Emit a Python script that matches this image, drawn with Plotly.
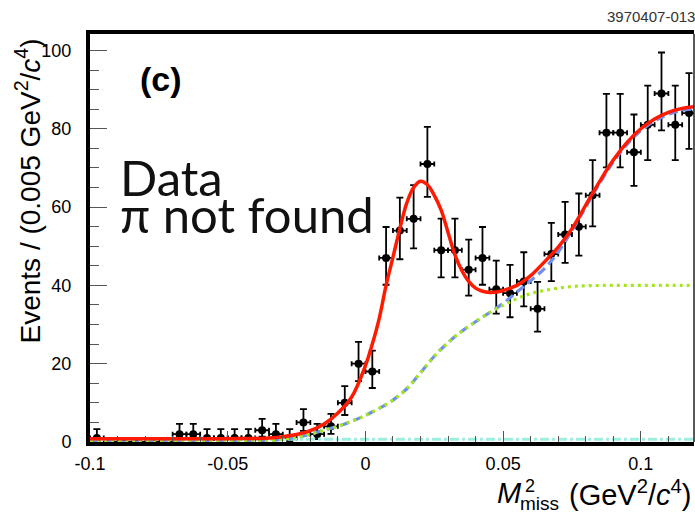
import plotly.graph_objects as go

# ---------------- data ----------------
bin_centers = [-0.0975, -0.0925, -0.0875, -0.0825, -0.0775, -0.0725, -0.0675, -0.0625,
               -0.0575, -0.0525, -0.0475, -0.0425, -0.0375, -0.0325, -0.0275, -0.0225,
               -0.0175, -0.0125, -0.0075, -0.0025, 0.0025, 0.0075, 0.0125, 0.0175,
               0.0225, 0.0275, 0.0325, 0.0375, 0.0425, 0.0475, 0.0525, 0.0575,
               0.0625, 0.0675, 0.0725, 0.0775, 0.0825, 0.0875, 0.0925, 0.0975,
               0.1025, 0.1075, 0.1125, 0.1175]
counts = [1, 0, 0, 0, 0, 0, 2, 2,
          1, 1, 1, 1, 3, 2, 1, 5,
          2, 4, 10, 20, 18, 47, 54, 57,
          71, 49, 49, 44, 47, 39, 38, 41,
          34, 48, 53, 55, 63, 79, 79, 74,
          81, 89, 81, 84]
err_lo = [0.83, 0, 0, 0, 0, 0, 1.29, 1.29,
          0.83, 0.83, 0.83, 0.83, 1.63, 1.29, 0.83, 2.16,
          1.29, 1.91, 3.11, 4.44, 4.21, 6.84, 7.33, 7.53,
          8.41, 6.98, 6.98, 6.62, 6.84, 6.23, 6.14, 6.38,
          5.81, 6.91, 7.26, 7.40, 7.92, 8.87, 8.87, 8.59,
          8.99, 9.42, 8.99, 9.15]
err_hi = [2.30, 0, 0, 0, 0, 0, 2.64, 2.64,
          2.30, 2.30, 2.30, 2.30, 2.92, 2.64, 2.30, 3.38,
          2.64, 3.16, 4.27, 5.55, 5.33, 7.91, 8.40, 8.60,
          9.47, 8.05, 8.05, 7.69, 7.91, 7.30, 7.22, 7.46,
          6.89, 7.98, 8.33, 8.47, 8.98, 9.93, 9.93, 9.64,
          10.04, 10.47, 10.04, 10.21]
half_bin = 0.0025

# total fit (red)
fit_x = [-0.1, -0.09, -0.08, -0.07, -0.06, -0.05, -0.045, -0.04, -0.035, -0.03,
         -0.025, -0.02, -0.015, -0.01, -0.005, 0.0, 0.0025, 0.005, 0.0075, 0.01,
         0.0125, 0.015, 0.0175, 0.02, 0.0225, 0.025, 0.0275, 0.03, 0.0325, 0.035,
         0.0375, 0.04, 0.0425, 0.045, 0.0475, 0.05, 0.055, 0.06, 0.065, 0.07,
         0.075, 0.08, 0.085, 0.09, 0.095, 0.1, 0.105, 0.11, 0.115, 0.1193]
fit_y = [0.85, 0.85, 0.85, 0.85, 0.85, 0.86, 0.88, 0.92, 1.05, 1.35,
         1.9, 2.9, 4.6, 7.4, 11.5, 19.5, 25.0, 31.5, 40.0, 47.2,
         54.5, 61.0, 65.0, 66.6, 65.7, 63.0, 59.2, 53.5, 47.8, 43.8,
         41.0, 39.3, 38.5, 38.2, 38.3, 38.7, 40.0, 42.5, 46.0, 49.8,
         54.5, 60.5, 66.5, 72.0, 76.5, 80.0, 82.5, 84.2, 85.2, 85.6]

# total background (blue dashed)
bkg_x = [-0.1, -0.05, -0.04, -0.035, -0.03, -0.025, -0.02, -0.015, -0.01, -0.005,
         0.0, 0.005, 0.01, 0.015, 0.02, 0.025, 0.03, 0.035, 0.04, 0.045,
         0.05, 0.055, 0.06, 0.065, 0.07, 0.075, 0.08, 0.085, 0.09, 0.095,
         0.1, 0.105, 0.11, 0.115, 0.1193]
bkg_y = [0.0, 0.05, 0.15, 0.3, 0.7, 1.2, 2.0, 3.0, 4.0, 5.3,
         6.8, 8.6, 10.7, 13.6, 17.7, 21.9, 25.4, 28.3, 30.7, 33.0,
         35.4, 38.3, 41.2, 44.3, 48.5, 54.0, 60.0, 66.0, 71.5, 76.0,
         79.5, 82.0, 83.7, 84.7, 85.1]

# smooth background component (green dotted)
comb_x = [-0.1, -0.05, -0.04, -0.035, -0.03, -0.025, -0.02, -0.015, -0.01, -0.005,
          0.0, 0.005, 0.01, 0.015, 0.02, 0.025, 0.03, 0.035, 0.04, 0.045,
          0.05, 0.055, 0.06, 0.065, 0.07, 0.075, 0.08, 0.09, 0.1, 0.11, 0.1193]
comb_y = [0.0, 0.05, 0.15, 0.3, 0.7, 1.2, 2.0, 3.0, 4.0, 5.3,
          6.8, 8.6, 10.7, 13.6, 17.7, 21.9, 25.4, 28.3, 30.7, 33.0,
          34.9, 36.6, 37.9, 38.7, 39.3, 39.7, 39.9, 40.0, 40.0, 40.0, 40.0]

# flat peaking component (cyan dash-dot)
flat_x = [-0.1, 0.1193]
flat_y = [0.7, 0.7]

x_tick_vals = [-0.1, -0.05, 0, 0.05, 0.1]
x_tick_text = ["-0.1", "-0.05", "0", "0.05", "0.1"]
y_tick_vals = [0, 20, 40, 60, 80, 100]

# ---------------- layout geometry ----------------
W, H = 695, 514
L, R, T, B = 90, 1, 34, 72
PW, PH = W - L - R, H - T - B


def px(xp):
    return (xp - L) / PW


def py(yp):
    return (H - B - yp) / PH


AX_FONT = "Liberation Sans, Arial, Helvetica, sans-serif"

fig = go.Figure()

# data points
fig.add_trace(go.Scatter(
    x=bin_centers, y=counts, mode="markers",
    marker=dict(color="black", size=8),
    error_y=dict(type="data", symmetric=False, array=err_hi, arrayminus=err_lo,
                 color="black", thickness=1.8, width=3.5),
    error_x=dict(type="constant", value=half_bin, color="black",
                 thickness=1.8, width=2.5),
    cliponaxis=False, showlegend=False, hoverinfo="x+y"))

# curves
fig.add_trace(go.Scatter(x=flat_x, y=flat_y, mode="lines",
                         line=dict(color="#9eeee0", width=3, dash="dashdot"),
                         showlegend=False))
fig.add_trace(go.Scatter(x=bkg_x, y=bkg_y, mode="lines", line_shape="spline",
                         line=dict(color="#6f8ff0", width=3.2, dash="9px,5px"),
                         showlegend=False))
fig.add_trace(go.Scatter(x=comb_x, y=comb_y, mode="lines", line_shape="spline",
                         line=dict(color="#a6e61e", width=3.2, dash="3px,4px"),
                         showlegend=False))
fig.add_trace(go.Scatter(x=fit_x, y=fit_y, mode="lines", line_shape="spline",
                         line=dict(color="#ff1a00", width=3.5),
                         showlegend=False))

fig.update_layout(
    width=W, height=H,
    margin=dict(l=L, r=R, t=T, b=B),
    paper_bgcolor="white", plot_bgcolor="white",
    showlegend=False,
    xaxis=dict(range=[-0.1, 0.1193], showgrid=False, zeroline=False,
               showline=True, linecolor="black", linewidth=4, mirror=True,
               ticks="inside", ticklen=11, tickcolor="#555", tickwidth=1,
               tickvals=x_tick_vals, ticktext=x_tick_text,
               minor=dict(ticks="inside", dtick=0.01, ticklen=6,
                          tickcolor="#555", tickwidth=1, showgrid=False),
               tickfont=dict(family=AX_FONT, size=18, color="black"),
               ticklabelstandoff=2),
    yaxis=dict(range=[0, 104.2], showgrid=False, zeroline=False,
               showline=True, linecolor="black", linewidth=4, mirror=False,
               ticks="inside", ticklen=17, tickcolor="#555", tickwidth=1,
               tickvals=y_tick_vals,
               minor=dict(ticks="inside", dtick=5, ticklen=9,
                          tickcolor="#555", tickwidth=1, showgrid=False),
               tickfont=dict(family=AX_FONT, size=18, color="black"),
               ticklabelstandoff=11),
    shapes=[dict(type="line", xref="paper", yref="paper", x0=1, x1=1, y0=0, y1=1,
                 line=dict(color="#222", width=1.5))],
)

ann = []
# y-axis title (top aligned, ROOT style)
ann.append(dict(text="Events / (0.005 GeV<sup>2</sup>/<i>c</i><sup>4</sup>)",
                x=px(28), y=py(37), xref="paper", yref="paper",
                xanchor="center", yanchor="top", textangle=-90, showarrow=False,
                font=dict(family=AX_FONT, size=28, color="black")))
# x-axis title pieces (superscript stacked over subscript)
ann.append(dict(text="<i>M</i>", x=px(496), y=py(493), xref="paper", yref="paper",
                xanchor="left", yanchor="middle", showarrow=False, borderpad=0,
                font=dict(family=AX_FONT, size=29, color="black")))
ann.append(dict(text="2", x=px(524), y=py(486), xref="paper", yref="paper",
                xanchor="left", yanchor="middle", showarrow=False, borderpad=0,
                font=dict(family=AX_FONT, size=18, color="black")))
ann.append(dict(text="miss", x=px(519), y=py(504), xref="paper", yref="paper",
                xanchor="left", yanchor="middle", showarrow=False, borderpad=0,
                font=dict(family=AX_FONT, size=19, color="black")))
ann.append(dict(text="(GeV<sup>2</sup>/<i>c</i><sup>4</sup>)", x=px(692), y=py(493),
                xref="paper", yref="paper", xanchor="right", yanchor="middle",
                showarrow=False, borderpad=0,
                font=dict(family=AX_FONT, size=29, color="black")))
# panel label and legend-like text
ann.append(dict(text="<b>(c)</b>", x=px(161), y=py(79), xref="paper", yref="paper",
                xanchor="center", yanchor="middle", showarrow=False,
                font=dict(family=AX_FONT, size=34, color="black")))
ann.append(dict(text="Data", x=px(119), y=py(177), xref="paper", yref="paper",
                xanchor="left", yanchor="middle", showarrow=False, borderpad=0,
                font=dict(family="Lato, Open Sans, sans-serif", size=49, color="#111")))
ann.append(dict(text="π not found", x=px(119), y=py(214), xref="paper", yref="paper",
                xanchor="left", yanchor="middle", showarrow=False, borderpad=0,
                font=dict(family="Lato, Open Sans, sans-serif", size=49, color="#111")))
# figure id
ann.append(dict(text="3970407-013", x=px(697), y=py(17), xref="paper", yref="paper",
                xanchor="right", yanchor="middle", showarrow=False,
                font=dict(family=AX_FONT, size=15, color="#333")))
fig.update_layout(annotations=ann)

fig.write_html("out.html")
